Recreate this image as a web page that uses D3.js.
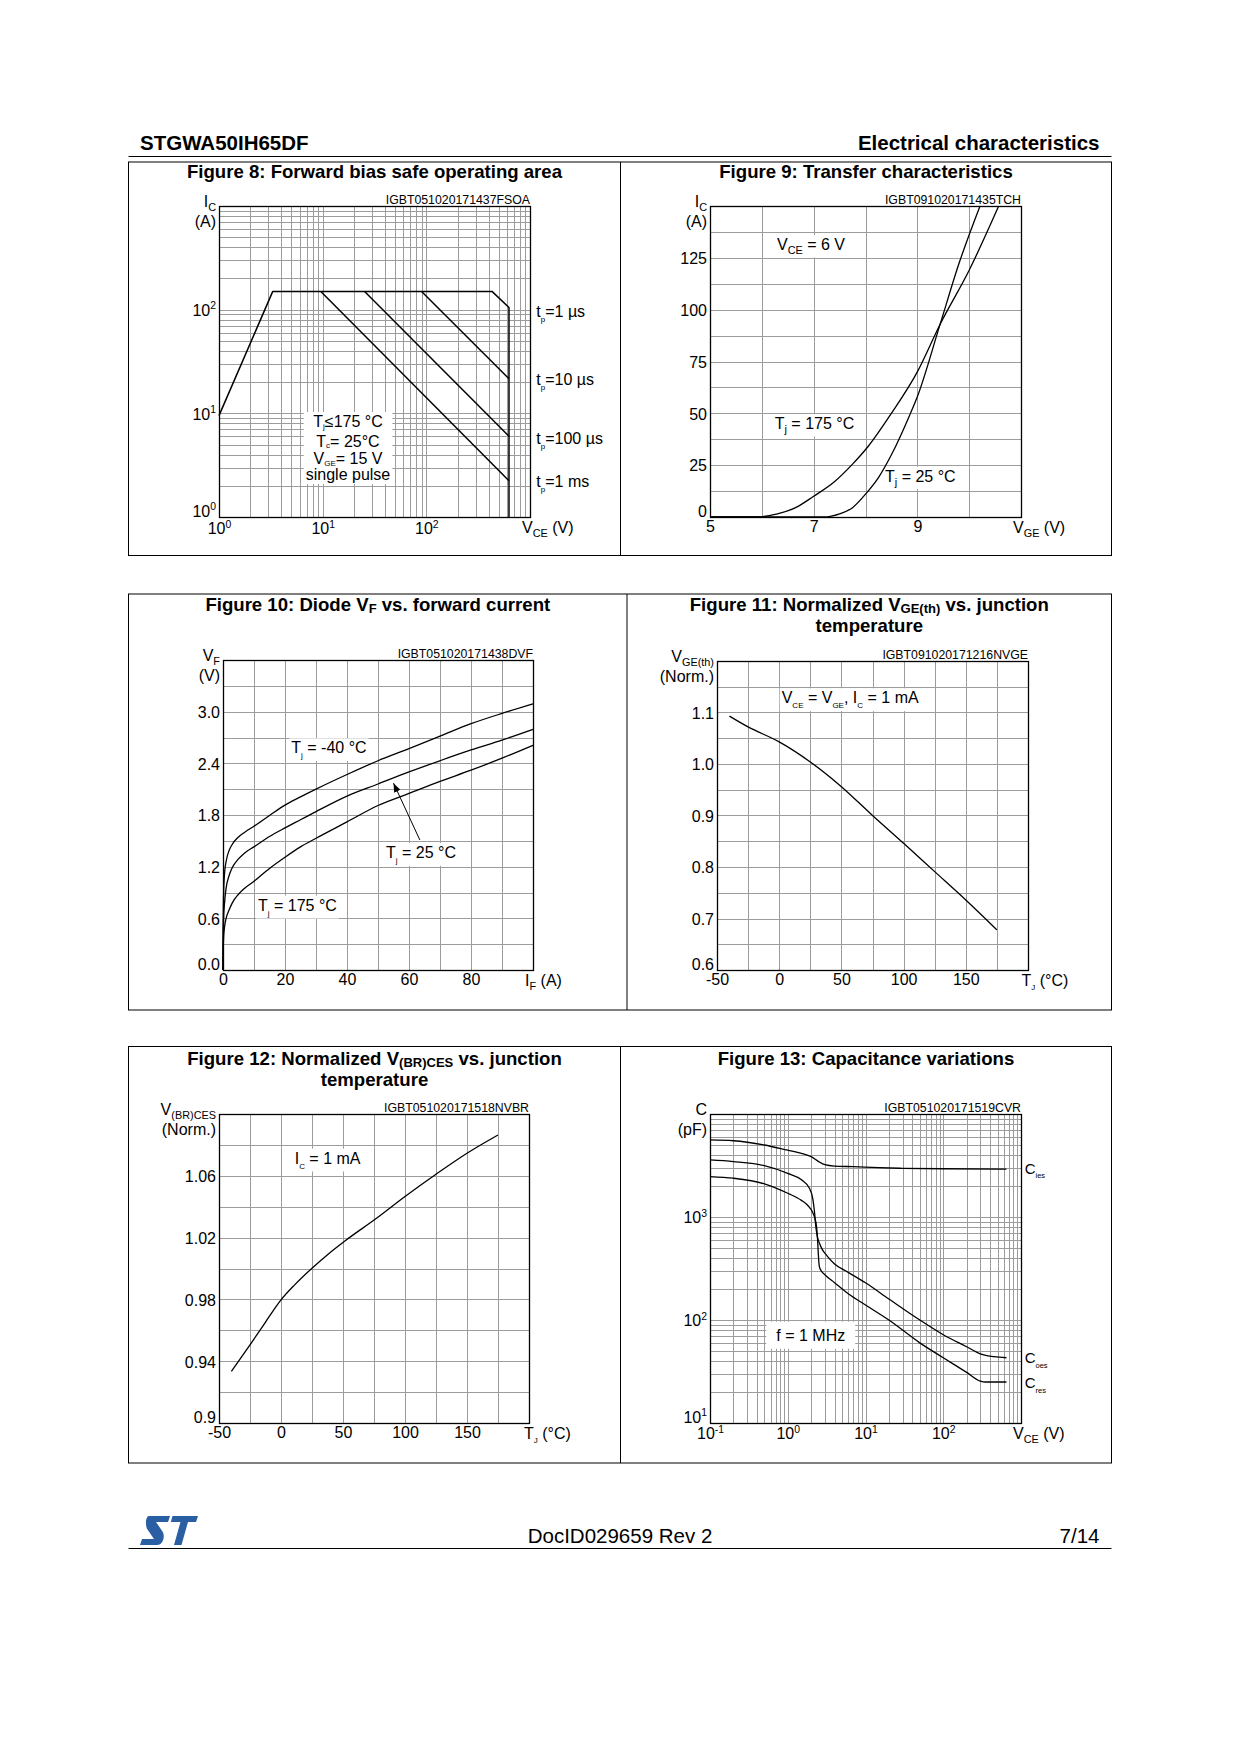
<!DOCTYPE html>
<html>
<head>
<meta charset="utf-8">
<script src="https://cdn.jsdelivr.net/npm/d3@7/dist/d3.min.js"></script>
<style>
html,body{margin:0;padding:0;background:#fff;}
svg text{font-family:"Liberation Sans",Arial,Helvetica,sans-serif;}
</style>
</head>
<body>
<svg id="page" width="1240" height="1754" xmlns="http://www.w3.org/2000/svg"></svg>
<script>
// ================= DATA =================
// Figure 8: Forward bias safe operating area (log-log)
const soaEnvV = [1, 3.3, 430, 627, 627];
const soaEnvI = [9.5, 150, 150, 105, 1];
const soa10usV = [90, 627],  soa10usI = [150, 21.6];
const soa100usV = [25.4, 627], soa100usI = [150, 6.0];
const soa1msV = [9.6, 627],  soa1msI = [150, 2.24];
const fig8XTicks = [1, 10, 100];
const fig8YTicks = [1, 10, 100];

// Figure 9: Transfer characteristics
const vgeHot  = [5, 5.9, 6.3, 6.65, 7.0, 7.4, 7.75, 8.05, 8.5, 9.0, 9.44, 10.0, 10.57];
const icHot   = [0, 0, 1.5, 4.5, 10, 17, 25.5, 34, 50, 70, 93, 119, 150];
const vgeCold = [5, 7.2, 7.5, 7.75, 8.0, 8.25, 8.5, 8.85, 9.0, 9.44, 9.8, 10.21];
const icCold  = [0, 0, 1.5, 4.5, 11, 19, 30, 49, 58, 93, 122, 150];
const fig9XTicks = [5, 7, 9];
const fig9YTicks = [0, 25, 50, 75, 100, 125];

// Figure 10: Diode VF vs forward current
const ifA   = [0, 0.05, 0.2, 0.5, 1, 2, 3, 5, 7, 10, 15, 20, 25, 30, 40, 50, 60, 70, 80, 90, 100];
const vfM40 = [0, 0.5, 0.9, 1.12, 1.26, 1.39, 1.46, 1.545, 1.6, 1.67, 1.795, 1.915, 2.01, 2.10, 2.27, 2.43, 2.57, 2.715, 2.86, 2.98, 3.09];
const vf25  = [0, 0.35, 0.6, 0.78, 0.95, 1.1, 1.19, 1.29, 1.36, 1.43, 1.55, 1.65, 1.745, 1.84, 2.02, 2.16, 2.30, 2.43, 2.555, 2.67, 2.795];
const vf175 = [0, 0.2, 0.38, 0.5, 0.6, 0.7, 0.78, 0.88, 0.95, 1.03, 1.18, 1.31, 1.43, 1.53, 1.72, 1.91, 2.05, 2.19, 2.32, 2.46, 2.61];
const fig10XTicks = [0, 20, 40, 60, 80];
const fig10YTicks = [0, 0.6, 1.2, 1.8, 2.4, 3.0];
const fig10Arrow = [[63.5, 1.51], [55.0, 2.17]];

// Figure 11: Normalized VGE(th) vs junction temperature
const tj11 = [-40, -25, 0, 25, 50, 75, 100, 125, 150, 175];
const vgeth = [1.093, 1.072, 1.043, 1.004, 0.956, 0.90, 0.846, 0.791, 0.736, 0.678];
const fig11XTicks = [-50, 0, 50, 100, 150];
const fig11YTicks = [0.6, 0.7, 0.8, 0.9, 1.0, 1.1];

// Figure 12: Normalized V(BR)CES vs junction temperature
const tj12 = [-40, -25, -13, 0, 11, 25, 38, 51, 77, 100, 125, 150, 175];
const vbr  = [0.9334, 0.9506, 0.9647, 0.9797, 0.9894, 1.0002, 1.0093, 1.0175, 1.0325, 1.0466, 1.061, 1.0746, 1.0864];
const fig12XTicks = [-50, 0, 50, 100, 150];
const fig12YTicks = [0.9, 0.94, 0.98, 1.02, 1.06];
const fig12YLabels = ['0.9', '0.94', '0.98', '1.02', '1.06'];

// Figure 13: Capacitance variations (log-log)
const ciesV = [0.1, 0.2, 0.5, 1, 1.5, 2, 2.5, 3, 4, 7, 15, 30, 100, 650];
const ciesC = [5600, 5500, 5000, 4450, 4150, 3850, 3450, 3220, 3120, 3080, 3010, 2970, 2940, 2920];
const coesV = [0.1, 0.2, 0.5, 1, 1.5, 1.9, 2.1, 2.2, 2.3, 2.4, 2.55, 2.8, 3.2, 4, 6, 10, 20, 50, 100, 200, 300, 450, 650];
const coesC = [3580, 3450, 3150, 2650, 2300, 1900, 1500, 1150, 800, 650, 560, 480, 420, 350, 290, 230, 160, 100, 72, 55, 47, 44, 43];
const cresV = [0.1, 0.2, 0.5, 1, 1.5, 1.8, 2.1, 2.25, 2.35, 2.42, 2.48, 2.55, 2.7, 3, 4, 6, 10, 20, 50, 100, 200, 300, 350, 450, 650];
const cresC = [2470, 2380, 2100, 1700, 1450, 1300, 1100, 950, 800, 600, 420, 330, 300, 275, 230, 180, 140, 100, 60, 43, 31, 25.5, 25, 25, 25];
const fig13XTicks = [0.1, 1, 10, 100];
const fig13YTicks = [10, 100, 1000];

// ================= HELPERS =================
const GRID = '#9c9c9c';
const svg = d3.select('#page');

function fillParts(t, parts, size) {
  t.text(null);
  let cur = 0;
  parts.forEach(p => {
    const s = Array.isArray(p) ? p[0] : p;
    const k = Array.isArray(p) ? p[1] : 'n';
    let shift = 0, fs = size;
    if (k === 'sub') { shift = size * 0.28; fs = size * 0.68; }
    else if (k === 'tsub') { shift = size * 0.15; fs = size * 0.7; }
    else if (k === 'tiny') { shift = size * 0.3; fs = size * 0.5; }
    else if (k === 'tinyh') { shift = size * 0.12; fs = size * 0.5; }
    else if (k === 'sup') { shift = -size * 0.42; fs = size * 0.65; }
    t.append('tspan').attr('dy', (shift - cur).toFixed(2)).attr('font-size', fs.toFixed(2)).text(s);
    cur = shift;
  });
}
function rich(parent, x, y, parts, o = {}) {
  const size = o.size || 16;
  const t = parent.append('text').attr('x', x).attr('y', y).attr('font-size', size)
    .attr('text-anchor', o.anchor || 'start').attr('font-weight', o.bold ? 'bold' : 'normal')
    .attr('fill', '#000');
  fillParts(t, parts, size);
  return t;
}
function bgBox(parent, t, px, py) {
  const b = t.node().getBBox();
  parent.insert('rect', () => t.node())
    .attr('x', b.x - px).attr('y', b.y - py).attr('width', b.width + 2 * px).attr('height', b.height + 2 * py)
    .attr('fill', '#fff');
}
function logGrid(lo, hi) {
  const out = [];
  for (let e = Math.round(Math.log10(lo)); e < Math.round(Math.log10(hi)); e++)
    for (let k = 1; k < 10; k++) out.push(k * Math.pow(10, e));
  out.push(hi);
  return out;
}
function linGrid(lo, hi, step) {
  const n = Math.round((hi - lo) / step);
  return d3.range(n + 1).map(i => lo + i * step);
}
const logLab = d => ['10', [String(Math.round(Math.log10(d))), 'sup']];

function plot(c) {
  const g = svg.append('g').attr('transform', `translate(${c.x},${c.y})`);
  const xs = c.xs.range([0, c.w]);
  const ys = c.ys.range([c.h, 0]);
  const px = v => Math.round(v) + 0.5;
  const gGrid = g.append('g'), gLab = g.append('g'), gCurve = g.append('g'), gFrame = g.append('g');
  gGrid.selectAll('line.v').data(c.xGrid).join('line').attr('class', 'v')
    .attr('x1', d => px(xs(d))).attr('x2', d => px(xs(d))).attr('y1', 0).attr('y2', c.h)
    .attr('stroke', GRID).attr('stroke-width', 1);
  gGrid.selectAll('line.h').data(c.yGrid).join('line').attr('class', 'h')
    .attr('y1', d => px(ys(d))).attr('y2', d => px(ys(d))).attr('x1', 0).attr('x2', c.w)
    .attr('stroke', GRID).attr('stroke-width', 1);
  gFrame.append('rect').attr('x', 0.5).attr('y', 0.5).attr('width', c.w).attr('height', c.h)
    .attr('fill', 'none').attr('stroke', '#000').attr('stroke-width', 1.3);

  const xa = gFrame.append('g').attr('transform', `translate(0,${c.h})`)
    .call(d3.axisBottom(xs).tickValues(c.xTicks).tickSize(0).tickPadding(0).tickFormat(() => ''));
  xa.select('.domain').remove();
  xa.attr('font-size', 16).attr('font-family', null);
  xa.selectAll('.tick text').attr('dy', null).attr('y', (c.xPad || 3.6) + 11.4)
    .each(function (d, i) { fillParts(d3.select(this), c.xLab(d, i), 16); });

  const ya = gFrame.append('g')
    .call(d3.axisLeft(ys).tickValues(c.yTicks).tickSize(0).tickPadding(3).tickFormat(() => ''));
  ya.select('.domain').remove();
  ya.attr('font-size', 16).attr('font-family', null);
  ya.selectAll('.tick text').attr('dy', null).attr('y', 5.8)
    .each(function (d, i) { fillParts(d3.select(this), c.yLab(d, i), 16); });
  ya.selectAll('.tick text').filter(d => d === c.yTicks[0]).attr('y', -0.3);

  // code label
  rich(g, c.w, -2.5, [c.code], { size: 12.3, anchor: 'end' });
  // units
  rich(g, -3, 1, c.yUnit, { size: 16, anchor: 'end' });
  rich(g, -3, 20.5, c.yUnit2, { size: 16, anchor: 'end' });
  rich(g, c.w - (c.xUnitOff || 8), c.h + 15.5, c.xUnit, { size: 16 });

  return { g, xs, ys, gLab, gCurve };
}
function curve(P, xa, ya, sw, cv) {
  P.gCurve.append('path').datum(d3.zip(xa, ya))
    .attr('d', d3.line().x(d => P.xs(d[0])).y(d => P.ys(d[1])).curve(cv || d3.curveMonotoneX))
    .attr('fill', 'none').attr('stroke', '#000').attr('stroke-width', sw || 1.3)
    .attr('stroke-linejoin', 'round');
}
function label(P, x, y, parts, o = {}) {
  const t = rich(P.gLab, x, y, parts, { size: o.size || 16 });
  bgBox(P.gLab, t, o.px == null ? 2 : o.px, o.py == null ? 1 : o.py);
  return t;
}

// ================= PAGE FRAME =================
rich(svg, 140, 150, ['STGWA50IH65DF'], { size: 20.5, bold: true });
rich(svg, 1099.5, 150, ['Electrical characteristics'], { size: 20.5, bold: true, anchor: 'end' });
svg.append('line').attr('x1', 128.5).attr('x2', 1111.5).attr('y1', 156.5).attr('y2', 156.5).attr('stroke', '#000').attr('stroke-width', 1.2);

const rows = [
  { y0: 162, y1: 555.5, div: 620.5 },
  { y0: 594, y1: 1010, div: 627 },
  { y0: 1046.5, y1: 1463, div: 620.5 }
];
rows.forEach(r => {
  svg.append('rect').attr('x', 128.5).attr('y', r.y0).attr('width', 983).attr('height', r.y1 - r.y0)
    .attr('fill', 'none').attr('stroke', '#000').attr('stroke-width', 1);
  svg.append('line').attr('x1', r.div).attr('x2', r.div).attr('y1', r.y0).attr('y2', r.y1)
    .attr('stroke', '#000').attr('stroke-width', 1);
});

// titles
const TS = 18.6;
rich(svg, 374.5, 178.3, ['Figure 8: Forward bias safe operating area'], { size: TS, bold: true, anchor: 'middle' });
rich(svg, 866, 178.3, ['Figure 9: Transfer characteristics'], { size: TS, bold: true, anchor: 'middle' });
rich(svg, 377.8, 610.7, ['Figure 10: Diode V', ['F', 'tsub'], ' vs. forward current'], { size: TS, bold: true, anchor: 'middle' });
rich(svg, 869.3, 610.7, ['Figure 11: Normalized V', ['GE(th)', 'tsub'], ' vs. junction'], { size: TS, bold: true, anchor: 'middle' });
rich(svg, 869.3, 631.7, ['temperature'], { size: TS, bold: true, anchor: 'middle' });
rich(svg, 374.5, 1064.7, ['Figure 12: Normalized V', ['(BR)CES', 'tsub'], ' vs. junction'], { size: TS, bold: true, anchor: 'middle' });
rich(svg, 374.5, 1085.7, ['temperature'], { size: TS, bold: true, anchor: 'middle' });
rich(svg, 866, 1064.7, ['Figure 13: Capacitance variations'], { size: TS, bold: true, anchor: 'middle' });

// ================= FIGURE 8 =================
const P8 = plot({
  x: 219, y: 206, w: 311, h: 311,
  xs: d3.scaleLog().domain([1, 1000]), ys: d3.scaleLog().domain([1, 1000]),
  xGrid: logGrid(1, 1000), yGrid: logGrid(1, 1000),
  xTicks: fig8XTicks, yTicks: fig8YTicks, xLab: logLab, yLab: logLab, xPad: 6,
  code: 'IGBT051020171437FSOA',
  yUnit: ['I', ['C', 'sub']], yUnit2: ['(A)'], xUnit: ['V', ['CE', 'sub'], ' (V)']
});
{
  const lines = [
    ['T', ['j', 'tinyh'], '≤175 °C'],
    ['T', ['c', 'tinyh'], '= 25°C'],
    ['V', ['GE', 'tinyh'], '= 15 V'],
    ['single pulse']
  ];
  const ys8 = [221, 240.5, 258, 274];
  const ts = lines.map((l, i) => rich(P8.gLab, 129, ys8[i], l, { size: 16, anchor: 'middle' }));
  const bbs = ts.map(t => t.node().getBBox());
  const x0 = d3.min(bbs, b => b.x) - 2, x1 = d3.max(bbs, b => b.x + b.width) + 2;
  const y0 = d3.min(bbs, b => b.y) - 1, y1 = d3.max(bbs, b => b.y + b.height) + 1;
  P8.gLab.insert('rect', () => ts[0].node()).attr('x', x0).attr('y', y0)
    .attr('width', x1 - x0).attr('height', y1 - y0).attr('fill', '#fff');
}
curve(P8, soaEnvV, soaEnvI, 1.5, d3.curveLinear);
curve(P8, soa10usV, soa10usI, 1.5, d3.curveLinear);
curve(P8, soa100usV, soa100usI, 1.5, d3.curveLinear);
curve(P8, soa1msV, soa1msI, 1.5, d3.curveLinear);
rich(P8.g, 317.3, 110.7, ['t', ['p', 'tiny'], '=1 µs'], { size: 16 });
rich(P8.g, 317.3, 179, ['t', ['p', 'tiny'], '=10 µs'], { size: 16 });
rich(P8.g, 317.3, 238.3, ['t', ['p', 'tiny'], '=100 µs'], { size: 16 });
rich(P8.g, 317.3, 281.3, ['t', ['p', 'tiny'], '=1 ms'], { size: 16 });

// ================= FIGURE 9 =================
const P9 = plot({
  x: 710, y: 206, w: 311, h: 311,
  xs: d3.scaleLinear().domain([5, 11]), ys: d3.scaleLinear().domain([0, 150]),
  xGrid: linGrid(5, 11, 1), yGrid: linGrid(0, 150, 12.5),
  xTicks: fig9XTicks, yTicks: fig9YTicks, xLab: d => [String(d)], yLab: d => [String(d)],
  code: 'IGBT091020171435TCH',
  yUnit: ['I', ['C', 'sub']], yUnit2: ['(A)'], xUnit: ['V', ['GE', 'sub'], ' (V)']
});
label(P9, 67, 44, ['V', ['CE', 'sub'], ' = 6 V']);
label(P9, 64.7, 223, ['T', ['j', 'sub'], ' = 175 °C']);
label(P9, 175, 275.7, ['T', ['j', 'sub'], ' = 25 °C']);
curve(P9, vgeHot, icHot);
curve(P9, vgeCold, icCold);

// ================= FIGURE 10 =================
const P10 = plot({
  x: 223, y: 660, w: 310, h: 310,
  xs: d3.scaleLinear().domain([0, 100]), ys: d3.scaleLinear().domain([0, 3.6]),
  xGrid: linGrid(0, 100, 10), yGrid: linGrid(0, 3.6, 0.3),
  xTicks: fig10XTicks, yTicks: fig10YTicks, xLab: d => [String(d)], yLab: d => [d3.format('.1f')(d)],
  code: 'IGBT051020171438DVF',
  yUnit: ['V', ['F', 'sub']], yUnit2: ['(V)'], xUnit: ['I', ['F', 'sub'], ' (A)']
});
label(P10, 68.3, 93.3, ['T', ['j', 'tiny'], ' = -40 °C']);
label(P10, 163, 198, ['T', ['j', 'tiny'], ' = 25 °C']);
label(P10, 35, 250.7, ['T', ['j', 'tiny'], ' = 175 °C']);
curve(P10, ifA, vfM40);
curve(P10, ifA, vf25);
curve(P10, ifA, vf175);
{
  const defs = svg.append('defs');
  defs.append('marker').attr('id', 'arr').attr('viewBox', '0 0 10 10').attr('refX', 10).attr('refY', 5)
    .attr('markerUnits', 'userSpaceOnUse').attr('markerWidth', 9).attr('markerHeight', 9).attr('orient', 'auto')
    .append('path').attr('d', 'M0,1.2 L10,5 L0,8.8 Z').attr('fill', '#000');
  P10.gCurve.append('line')
    .attr('x1', P10.xs(fig10Arrow[0][0])).attr('y1', P10.ys(fig10Arrow[0][1]))
    .attr('x2', P10.xs(fig10Arrow[1][0])).attr('y2', P10.ys(fig10Arrow[1][1]))
    .attr('stroke', '#000').attr('stroke-width', 1).attr('marker-end', 'url(#arr)');
}

// ================= FIGURE 11 =================
const P11 = plot({
  x: 717, y: 661, w: 311, h: 309,
  xs: d3.scaleLinear().domain([-50, 200]), ys: d3.scaleLinear().domain([0.6, 1.2]),
  xGrid: linGrid(-50, 200, 25), yGrid: linGrid(0.6, 1.2, 0.05),
  xTicks: fig11XTicks, yTicks: fig11YTicks, xLab: d => [String(d)], yLab: d => [d3.format('.1f')(d)],
  code: 'IGBT091020171216NVGE', xUnitOff: 6.5,
  yUnit: ['V', ['GE(th)', 'sub']], yUnit2: ['(Norm.)'], xUnit: ['T', ['J', 'tiny'], ' (°C)']
});
label(P11, 64.7, 42.3, ['V', ['CE', 'tiny'], ' = V', ['GE', 'tiny'], ', I', ['C', 'tiny'], ' = 1 mA']);
curve(P11, tj11, vgeth);

// ================= FIGURE 12 =================
const P12 = plot({
  x: 219, y: 1114, w: 310, h: 309,
  xs: d3.scaleLinear().domain([-50, 200]), ys: d3.scaleLinear().domain([0.9, 1.1]),
  xGrid: linGrid(-50, 200, 25), yGrid: linGrid(0.9, 1.1, 0.02),
  xTicks: fig12XTicks, yTicks: fig12YTicks, xLab: d => [String(d)], yLab: (d, i) => [fig12YLabels[i]],
  code: 'IGBT051020171518NVBR', xUnitOff: 5,
  yUnit: ['V', ['(BR)CES', 'sub']], yUnit2: ['(Norm.)'], xUnit: ['T', ['J', 'tiny'], ' (°C)']
});
label(P12, 75.7, 49.7, ['I', ['C', 'tiny'], ' = 1 mA']);
curve(P12, tj12, vbr);

// ================= FIGURE 13 =================
const P13 = plot({
  x: 710, y: 1114, w: 311, h: 309,
  xs: d3.scaleLog().domain([0.1, 1000]), ys: d3.scaleLog().domain([10, 10000]),
  xGrid: logGrid(0.1, 1000), yGrid: logGrid(10, 10000),
  xTicks: fig13XTicks, yTicks: fig13YTicks, xLab: logLab, yLab: logLab, xPad: 5,
  code: 'IGBT051020171519CVR',
  yUnit: ['C'], yUnit2: ['(pF)'], xUnit: ['V', ['CE', 'sub'], ' (V)']
});
label(P13, 66.3, 226.7, ['f = 1 MHz'], { px: 10, py: 5 });
curve(P13, ciesV, ciesC);
curve(P13, coesV, coesC);
curve(P13, cresV, cresC);
rich(P13.g, 314.7, 59.7, ['C', ['ies', 'tiny']], { size: 15 });
rich(P13.g, 314.7, 249, ['C', ['oes', 'tiny']], { size: 15 });
rich(P13.g, 314.7, 274, ['C', ['res', 'tiny']], { size: 15 });

// ================= FOOTER =================
{
  const logo = svg.append('g').attr('transform', 'translate(140,1516)').attr('fill', '#2a5fa3');
  logo.append('path').attr('d', 'M9,0 L30,0 L28,6 L16,6 L22.5,15.5 C25,19 24,29 17,29 L0,29 L2,23 L14,23 L7.5,13.5 C5,10 5.5,0 9,0 Z');
  logo.append('path').attr('d', 'M32.5,0 L58,0 L56,6 L48,6 L41.5,29 L34,29 L40.5,6 L30.8,6 Z');
}
rich(svg, 620, 1543, ['DocID029659 Rev 2'], { size: 20.5, anchor: 'middle' });
rich(svg, 1099.5, 1543, ['7/14'], { size: 20.5, anchor: 'end' });
svg.append('line').attr('x1', 128.5).attr('x2', 1111.5).attr('y1', 1548.5).attr('y2', 1548.5).attr('stroke', '#000').attr('stroke-width', 1.2);
</script>
</body>
</html>
